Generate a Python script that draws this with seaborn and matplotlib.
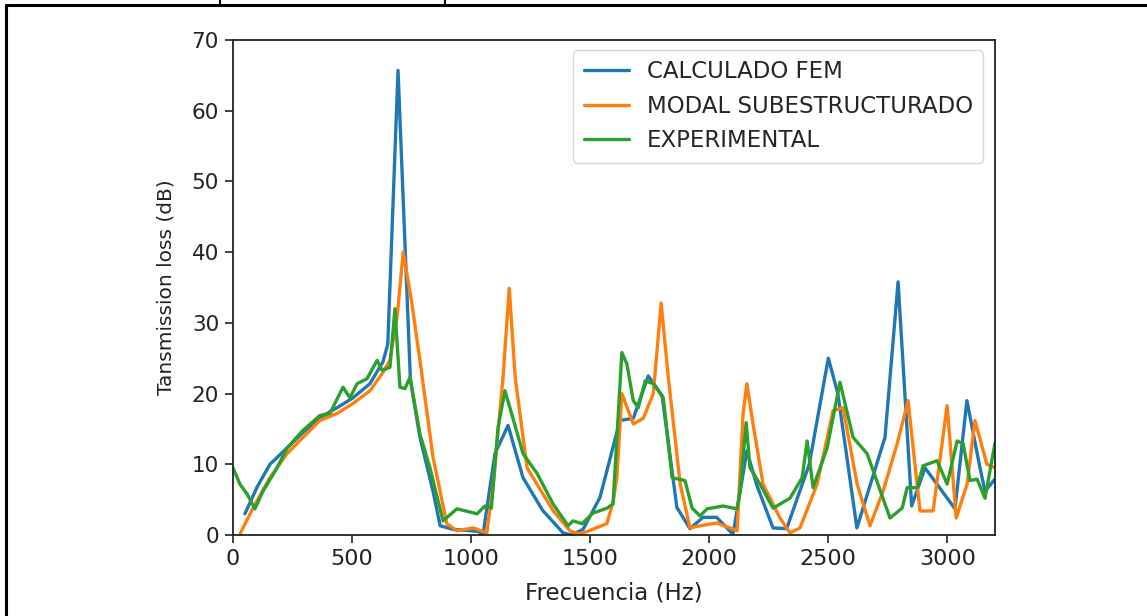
import matplotlib
matplotlib.use("Agg")
import matplotlib.pyplot as plt
from matplotlib.lines import Line2D
import seaborn as sns
import pandas as pd

# Transmission loss curves (frequency in Hz, level in dB)
fem_hz = [50, 100, 155, 227, 294, 365, 437, 504, 575, 630, 650, 693, 745, 785, 840, 870,
          924, 1000, 1030, 1050, 1100, 1155, 1218, 1300, 1386, 1420, 1470, 1541, 1625, 1681,
          1744, 1802, 1864, 1919, 1974, 2031, 2100, 2158, 2200, 2268, 2325, 2420, 2500, 2540,
          2620, 2738, 2793, 2850, 2906, 3032, 3082, 3137, 3158, 3200]
fem_db = [3, 6.7, 10, 12.3, 14.5, 16.6, 18, 19.4, 21.4, 24.5, 27, 65.7, 22, 13.8, 6.2, 1.3,
          0.8, 0.6, 0.5, 0.1, 11.5, 15.5, 8.1, 3.5, 0.3, 0, 0.8, 5.3, 16.2, 16.5,
          22.5, 19.7, 3.9, 0.9, 2.5, 2.5, 0.1, 11.9, 7, 1, 0.9, 10, 25, 20,
          1, 13.8, 35.8, 4.1, 9.5, 3.7, 19, 9.5, 6.2, 7.9]

modal_hz = [30, 84, 155, 227, 294, 365, 437, 504, 575, 630, 659, 689, 715, 750, 785, 840,
            898, 940, 1009, 1066, 1093, 1134, 1160, 1185, 1235, 1345, 1415, 1457, 1570, 1597,
            1612, 1633, 1681, 1723, 1765, 1798, 1828, 1878, 1919, 1961, 2031, 2087, 2117, 2142,
            2158, 2184, 2226, 2297, 2339, 2381, 2453, 2520, 2562, 2621, 2675, 2730, 2789, 2835,
            2885, 2940, 2999, 3037, 3083, 3116, 3166, 3200]
modal_db = [0.2, 3.8, 8.1, 11.5, 13.8, 16.2, 17.2, 18.6, 20.4, 23, 24.7, 30.8, 40, 33, 24.7, 11,
            1.6, 0.6, 1, 0.3, 7.2, 22.3, 34.9, 22.3, 9.5, 3.4, 0.6, 0.1, 1.6, 4.8,
            8.1, 20, 15.7, 16.5, 20, 32.8, 22.3, 7.2, 1, 1.3, 1.7, 1, 0.6, 17.2,
            21.4, 15.7, 7.2, 2.4, 0.3, 1, 7.2, 17.6, 18, 7.2, 1.3, 6.2, 12.9, 19,
            3.4, 3.4, 18.3, 2.4, 7.2, 16.2, 10, 9.5]

exp_hz = [0, 29, 59, 92, 126, 185, 227, 294, 365, 407, 462, 491, 521, 563, 605, 626, 659, 680,
          701, 722, 743, 785, 827, 882, 940, 1025, 1058, 1085, 1113, 1142, 1163, 1218, 1277,
          1344, 1407, 1428, 1466, 1512, 1571, 1596, 1633, 1654, 1681, 1702, 1731, 1765, 1807,
          1844, 1898, 1928, 1961, 1991, 2058, 2117, 2129, 2155, 2171, 2213, 2268, 2339, 2390,
          2411, 2436, 2495, 2549, 2604, 2663, 2759, 2810, 2831, 2873, 2898, 2957, 2999, 3041,
          3066, 3095, 3125, 3158, 3200]
exp_db = [9.5, 7.2, 5.8, 3.7, 6.2, 9.5, 12.3, 14.8, 16.9, 17.2, 20.9, 19.4, 21.4, 22.1, 24.7,
          23.3, 23.7, 32, 20.9, 20.7, 22.3, 14.3, 9.5, 2, 3.7, 3, 4.1, 3.8, 15.2, 20.4, 18,
          11.5, 8.7, 4.4, 1.3, 2, 1.6, 3.1, 3.8, 4.4, 25.8, 24.2, 19, 18, 21.8, 21.4, 19.4,
          8.1, 7.7, 3.8, 2.7, 3.7, 4.1, 3.7, 6.2, 15.9, 9.5, 7.2, 3.8, 5.2, 8.1, 13.3, 6.7,
          12.3, 21.6, 13.8, 11.5, 2.4, 3.8, 6.7, 6.7, 9.8, 10.5, 7.2, 13.3, 12.9, 7.7, 7.9,
          5.2, 13]

series_names = ["CALCULADO FEM", "MODAL SUBESTRUCTURADO", "EXPERIMENTAL"]
x_ticks = [0, 500, 1000, 1500, 2000, 2500, 3000]
y_ticks = [0, 10, 20, 30, 40, 50, 60, 70]

frames = []
for name, hz, db in zip(series_names, [fem_hz, modal_hz, exp_hz], [fem_db, modal_db, exp_db]):
    frames.append(pd.DataFrame({"hz": hz, "db": db, "serie": name}))
df = pd.concat(frames, ignore_index=True)

sns.set_style("ticks")
plt.rcParams["font.family"] = ["DejaVu Sans"]

fig = plt.figure(figsize=(11.47, 6.16), dpi=100)
ax = fig.add_axes([233 / 1147, 1 - 535 / 616, (995 - 233) / 1147, (535 - 40) / 616])

palette = dict(zip(series_names, ["#1f77b4", "#ff7f0e", "#2ca02c"]))
sns.lineplot(data=df, x="hz", y="db", hue="serie", hue_order=series_names,
             palette=palette, sort=False, estimator=None, linewidth=2.4, ax=ax)

ax.set_xlim(0, 3200)
ax.set_ylim(0, 70)
ax.set_xticks(x_ticks)
ax.set_yticks(y_ticks)
ax.tick_params(axis="x", labelsize=16, length=6, width=1.2, colors="#222222", pad=4)
ax.tick_params(axis="y", labelsize=15.5, length=6, width=1.2, colors="#222222", pad=4)
for side in ["top", "right", "left", "bottom"]:
    ax.spines[side].set_visible(True)
    ax.spines[side].set_color("#222222")
    ax.spines[side].set_linewidth(1.3)

ax.set_xlabel("Frecuencia (Hz)", fontsize=16.5, color="#222222", labelpad=9)
ax.set_ylabel("Tansmission loss (dB)", fontsize=14.5, color="#222222", labelpad=12)

leg = ax.legend(loc="upper right", fontsize=16.5, frameon=True, handlelength=2.0,
                handletextpad=0.75, borderpad=0.45, labelspacing=0.5, borderaxespad=0,
                bbox_to_anchor=((983 - 233) / 762, (535 - 50) / 495))
leg.get_frame().set_edgecolor("#cccccc")
for line in leg.get_lines():
    line.set_linewidth(2.4)

# page frame around the figure
fig.add_artist(Line2D([6 / 1147, 6 / 1147], [0, 1 - 5 / 616], transform=fig.transFigure,
                      color="black", lw=2.2))
fig.add_artist(Line2D([6 / 1147, 1], [1 - 5 / 616, 1 - 5 / 616], transform=fig.transFigure,
                      color="black", lw=2.2))
for xp in (220, 445):
    fig.add_artist(Line2D([xp / 1147, xp / 1147], [1 - 5 / 616, 1], transform=fig.transFigure,
                          color="black", lw=1.5))

fig.savefig("out.png", dpi=100, facecolor="white")
